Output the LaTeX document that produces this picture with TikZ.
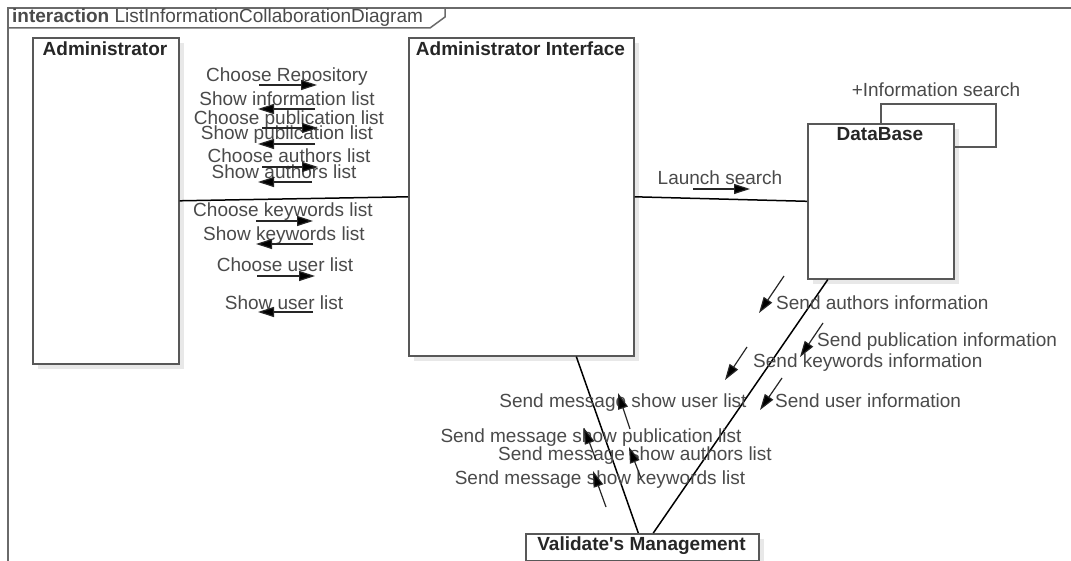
\documentclass[tikz,border=0pt]{standalone}
\usepackage{fontspec}
\setmainfont{Liberation Sans}
\usetikzlibrary{arrows.meta,shadows}
\definecolor{txt}{HTML}{4A4A4A}
\definecolor{bord}{HTML}{585858}
\definecolor{frm}{HTML}{6A6A6A}
\begin{document}
\begin{tikzpicture}[x=1pt,y=-1pt,
  box/.style={draw=bord, line width=1.6pt, fill=white, anchor=north west, inner sep=0pt,
    drop shadow={shadow xshift=5pt,shadow yshift=-5pt,fill=black!9,opacity=1}},
  ttl/.style={font=\fontsize{19}{22}\selectfont\bfseries, text=black!85, anchor=base, inner sep=0pt},
  lbl/.style={font=\fontsize{19}{22}\selectfont, text=txt, anchor=base, inner sep=0pt},
  lblw/.style={lbl, anchor=base west},
  msg/.style={line width=1.2pt, draw=black!85, -{Triangle[length=16pt,width=10pt,fill=black]}},
  conn/.style={line width=1.5pt, draw=black},
  frame/.style={line width=1.5pt, draw=frm},
]
\useasboundingbox (0,0) rectangle (1071,561);
\fill[white] (0,0) rectangle (1071,561);

% frame
\draw[frame] (8,561) -- (8,8) -- (1071,8);
\draw[frame] (8,28) -- (430,28) -- (445,17) -- (445,8);
\node[lbl, anchor=base west] (frametitle) at (12,23) {\textbf{interaction} ListInformationCollaborationDiagram};

% boxes
\node[box, minimum width=146pt, minimum height=326pt] (admin) at (32,37) {};
\node[box, minimum width=225pt, minimum height=318pt] (iface) at (408,37) {};
\node[box, minimum width=146pt, minimum height=155pt] (db) at (807,123) {};
\node[box, minimum width=233pt, minimum height=27pt] (val) at (525,533) {};

\node[ttl] (admint) at (105,56) {Administrator};
\node[ttl] (ifacet) at (520.5,56) {Administrator Interface};
\node[ttl] (dbt) at (880,141) {DataBase};
\node[ttl] (valt) at (641.5,550) {Validate\textquotesingle s Management};

% self loop on DataBase
\coordinate (loopA) at (996,104);
\coordinate (loopB) at (996,147);
\draw[line width=1.6pt, draw=bord] (db.north) |- (loopA) -- (loopB) -- (loopB -| db.east);
\node[lbl] (loopl) at (936,97) {+Information search};

% links
\draw[conn] (admin.east) -- (iface.west);
\draw[conn] (iface.east) -- (db.west);
\draw[conn] ([xshift=55pt]iface.south) -- ([xshift=-4pt]val.north);
\draw[conn] ([xshift=-53pt]db.south) -- ([xshift=11pt]val.north);

% Administrator <-> Interface messages
\node[lbl] (l1) at (287,82) {Choose Repository};
\node[lbl] (l2) at (287,106) {Show information list};
\node[lbl] (l3) at (289,125) {Choose publication list};
\node[lbl] (l4) at (287,140) {Show publication list};
\node[lbl] (l5) at (289,163) {Choose authors list};
\node[lbl] (l6) at (284,179) {Show authors list};
\node[lbl] (l7) at (283,217) {Choose keywords list};
\node[lbl] (l8) at (284,241) {Show keywords list};
\node[lbl] (l9) at (285,272) {Choose user list};
\node[lbl] (l10) at (284,310) {Show user list};

\coordinate (a1s) at (259,85);  \coordinate (a1e) at (317,85);
\coordinate (a2s) at (315,109); \coordinate (a2e) at (258,109);
\coordinate (a3s) at (262,128); \coordinate (a3e) at (318,128);
\coordinate (a4s) at (315,144); \coordinate (a4e) at (258,144);
\coordinate (a5s) at (262,167); \coordinate (a5e) at (318,167);
\coordinate (a6s) at (312,182); \coordinate (a6e) at (258,182);
\coordinate (a7s) at (256,221); \coordinate (a7e) at (313,221);
\coordinate (a8s) at (313,244); \coordinate (a8e) at (256,244);
\coordinate (a9s) at (257,276); \coordinate (a9e) at (315,276);
\coordinate (a10s) at (313,312); \coordinate (a10e) at (258,312);
\foreach \i in {1,...,10} {\draw[msg] (a\i s) -- (a\i e);}

% Interface -> DataBase
\node[lbl] (ls) at (720,185) {Launch search};
\coordinate (lss) at (693,189); \coordinate (lse) at (750,189);
\draw[msg] (lss) -- (lse);

% DataBase -> Validate's Management
\node[lblw] (d1) at (776,309) {Send authors information};
\node[lblw] (d2) at (817,346) {Send publication information};
\node[lblw] (d3) at (753,367) {Send keywords information};
\node[lblw] (d4) at (775,407) {Send user information};
\coordinate (b1s) at (784,276); \coordinate (b1e) at (759,313);
\coordinate (b2s) at (823,323); \coordinate (b2e) at (800,357);
\coordinate (b3s) at (747,347); \coordinate (b3e) at (725,380);
\coordinate (b4s) at (782,378); \coordinate (b4e) at (760,410);
\foreach \i in {1,...,4} {\draw[msg] (b\i s) -- (b\i e);}

% Validate's Management -> Interface
\node[lbl] (v1) at (623,407) {Send message show user list};
\node[lbl] (v2) at (591,442) {Send message show publication list};
\node[lbl] (v3) at (635,460) {Send message show authors list};
\node[lbl] (v4) at (600,484) {Send message show keywords list};
\coordinate (c1s) at (630,429); \coordinate (c1e) at (618,393);
\coordinate (c2s) at (596,460); \coordinate (c2e) at (584,428);
\coordinate (c3s) at (641,478); \coordinate (c3e) at (629,447);
\coordinate (c4s) at (606,507); \coordinate (c4e) at (593,471);
\foreach \i in {1,...,4} {\draw[msg] (c\i s) -- (c\i e);}
\end{tikzpicture}
\end{document}
